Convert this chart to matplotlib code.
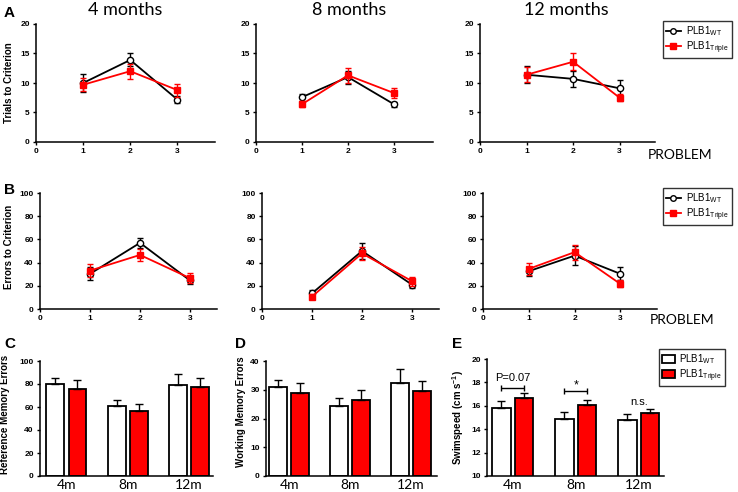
import matplotlib
matplotlib.use("Agg")
import matplotlib.pyplot as plt
import numpy as np
from matplotlib.lines import Line2D
from matplotlib.patches import Patch

plt.rcParams['font.family'] = ['Liberation Sans', 'DejaVu Sans']
plt.rcParams['mathtext.fontset'] = 'custom'
plt.rcParams['mathtext.rm'] = 'Liberation Sans'
plt.rcParams['mathtext.bf'] = 'Liberation Sans:bold'

# ---- data ----
problems = [1, 2, 3]
month_titles = ['4 months', '8 months', '12 months']
ages = ['4m', '8m', '12m']

trials_wt = [[10.0, 13.9, 7.2], [7.6, 11.0, 6.4], [11.4, 10.7, 9.1]]
trials_wt_sem = [[1.5, 1.1, 0.6], [0.6, 1.1, 0.4], [1.4, 1.3, 1.4]]
trials_tr = [[9.7, 12.0, 8.8], [6.4, 11.3, 8.3], [11.4, 13.6, 7.5]]
trials_tr_sem = [[1.1, 1.3, 1.1], [0.5, 1.3, 0.8], [1.3, 1.4, 0.6]]

errors_wt = [[30.3, 57.0, 24.6], [13.5, 50.0, 21.0], [32.6, 46.0, 30.3]]
errors_wt_sem = [[5.5, 4.0, 3.0], [3.0, 6.5, 3.0], [4.0, 8.0, 5.5]]
errors_tr = [[33.1, 46.6, 26.6], [10.7, 47.9, 24.0], [34.6, 49.0, 21.6]]
errors_tr_sem = [[5.5, 5.0, 4.5], [2.0, 5.5, 4.0], [5.0, 6.5, 3.0]]

ref_wt = [80.0, 60.5, 79.0]
ref_wt_sem = [5.0, 5.5, 10.0]
ref_tr = [76.0, 56.5, 77.5]
ref_tr_sem = [7.5, 6.5, 8.0]

work_wt = [31.0, 24.2, 32.2]
work_wt_sem = [2.3, 3.0, 5.0]
work_tr = [29.0, 26.5, 29.4]
work_tr_sem = [3.5, 3.3, 3.6]

swim_wt = [15.8, 14.9, 14.8]
swim_wt_sem = [0.63, 0.57, 0.54]
swim_tr = [16.7, 16.1, 15.35]
swim_tr_sem = [0.37, 0.37, 0.35]

W, H = 738, 492
RED = '#ff0000'
fig = plt.figure(figsize=(W / 100, H / 100), dpi=100)


def px_axes(left, top, right, bottom):
    return fig.add_axes([left / W, 1 - bottom / H, (right - left) / W, (bottom - top) / H])


def style(ax):
    for s in ['top', 'right']:
        ax.spines[s].set_visible(False)
    for s in ['left', 'bottom']:
        ax.spines[s].set_linewidth(1.1)
    ax.tick_params(labelsize=6, width=1, length=2.5, pad=2)
    for lab in ax.get_xticklabels() + ax.get_yticklabels():
        lab.set_fontweight('bold')


def line_panel(ax, wt, wt_e, tr, tr_e, ymax, step, xmax):
    ax.errorbar(problems, wt, yerr=wt_e, color='black', marker='o', mfc='white', mec='black',
                ms=4.5, mew=1, lw=1.3, capsize=2.2, elinewidth=1, capthick=1, zorder=3)
    ax.errorbar(problems, tr, yerr=tr_e, color=RED, marker='s', mfc=RED, mec=RED,
                ms=4.3, lw=1.3, capsize=2.2, elinewidth=1, capthick=1, zorder=4)
    ax.set_xlim(0, xmax)
    ax.set_ylim(0, ymax)
    ax.set_xticks([0, 1, 2, 3])
    ax.set_yticks(np.arange(0, ymax + 1, step))
    style(ax)


# row A : trials to criterion
row_a = [(36, 215, 3.8), (256, 433, 3.85), (480, 655, 3.76)]
title_x = [125, 349, 566]
for i, (l, r, xm) in enumerate(row_a):
    ax = px_axes(l, 24, r, 142)
    line_panel(ax, trials_wt[i], trials_wt_sem[i], trials_tr[i], trials_tr_sem[i], 20, 5, xm)
    fig.text(title_x[i] / W, 1 - 10 / H, month_titles[i],
             fontfamily='Lato', fontsize=13, ha='center', va='center')

# row B : errors to criterion
row_b = [(40, 217, 3.54), (262, 439, 3.54), (483, 657, 3.8)]
for i, (l, r, xm) in enumerate(row_b):
    ax = px_axes(l, 193, r, 309)
    line_panel(ax, errors_wt[i], errors_wt_sem[i], errors_tr[i], errors_tr_sem[i], 100, 20, xm)

line_handles = [Line2D([], [], color='black', marker='o', mfc='white', mec='black', ms=4, lw=1.3),
                Line2D([], [], color=RED, marker='s', ms=4, lw=1.3)]
labels = ['PLB1$_{\\mathrm{WT}}$', 'PLB1$_{\\mathrm{Triple}}$']
for top in [21, 188]:
    fig.legend(line_handles, labels, loc='upper left', bbox_to_anchor=(663 / W, 1 - top / H),
               fancybox=False, edgecolor='0.2', framealpha=1, fontsize=7, handlelength=1.5,
               borderpad=0.3, labelspacing=0.15, handletextpad=0.6, borderaxespad=0)

fig.text(648 / W, 1 - 155 / H, 'PROBLEM', fontfamily='Lato', fontsize=10, va='center')
fig.text(650 / W, 1 - 320 / H, 'PROBLEM', fontfamily='Lato', fontsize=10, va='center')

# rows C-E : bars
off, bw = 0.18, 0.29


def bar_panel(ax, wt, wt_e, tr, tr_e, ylim, step, xlim):
    x = np.arange(1, 4)
    ax.bar(x - off, wt, width=bw, color='white', edgecolor='black', lw=1.3, zorder=2)
    ax.bar(x + off, tr, width=bw, color=RED, edgecolor='black', lw=1.3, zorder=2)
    ax.errorbar(x - off, wt, yerr=[np.zeros(3), wt_e], fmt='none', ecolor='black',
                elinewidth=1, capsize=3, capthick=1, zorder=3)
    ax.errorbar(x + off, tr, yerr=[np.zeros(3), tr_e], fmt='none', ecolor='black',
                elinewidth=1, capsize=3, capthick=1, zorder=3)
    ax.set_ylim(*ylim)
    ax.set_xlim(*xlim)
    ax.set_yticks(np.arange(ylim[0], ylim[1] + 1, step))
    ax.set_xticks(x)
    style(ax)
    ax.set_xticklabels(ages, fontfamily='Lato', fontsize=10, fontweight='normal')
    ax.tick_params(axis='x', length=0, pad=2)


ax_c = px_axes(40, 361, 213, 476)
bar_panel(ax_c, ref_wt, ref_wt_sem, ref_tr, ref_tr_sem, (0, 100), 20, (0.57, 3.39))
ax_d = px_axes(266, 361, 437, 476)
bar_panel(ax_d, work_wt, work_wt_sem, work_tr, work_tr_sem, (0, 40), 10, (0.62, 3.43))
ax_e = px_axes(487, 359, 664, 476)
bar_panel(ax_e, swim_wt, swim_wt_sem, swim_tr, swim_tr_sem, (10, 20), 2, (0.59, 3.4))

ax_e.errorbar([1], [17.52], xerr=off, fmt='none', ecolor='black', elinewidth=1, capsize=2.5, capthick=1)
ax_e.errorbar([2], [17.26], xerr=off, fmt='none', ecolor='black', elinewidth=1, capsize=2.5, capthick=1)
ax_e.text(1, 18.4, 'P=0.07', ha='center', va='center', fontsize=8)
ax_e.text(2, 17.75, '*', ha='center', va='center', fontsize=9)
ax_e.text(3, 16.3, 'n.s.', ha='center', va='center', fontsize=8)

bar_handles = [Patch(facecolor='white', edgecolor='black', lw=1.3),
               Patch(facecolor=RED, edgecolor='black', lw=1.3)]
fig.legend(bar_handles, labels, loc='upper left', bbox_to_anchor=(659 / W, 1 - 349 / H),
           fancybox=False, edgecolor='0.2', framealpha=1, fontsize=7, handlelength=1.3,
           handleheight=0.9, borderpad=0.3, labelspacing=0.15, handletextpad=0.5, borderaxespad=0)

# axis labels and panel letters
ylab = dict(rotation=90, fontsize=7, fontweight='bold', ha='center', va='center')
fig.text(9 / W, 1 - 83 / H, 'Trials to Criterion', **ylab)
fig.text(9 / W, 1 - 247 / H, 'Errors to Criterion', **ylab)
fig.text(5 / W, 1 - 414 / H, 'Reference Memory Errors', **ylab)
fig.text(241 / W, 1 - 412 / H, 'Working Memory Errors', **ylab)
fig.text(458 / W, 1 - 418 / H, 'Swimspeed (cm s$^{\\mathbf{-1}}$)', **ylab)

let = dict(fontsize=11, fontweight='bold', ha='left', va='center')
fig.text(4 / W, 1 - 13 / H, 'A', **let)
fig.text(4 / W, 1 - 190 / H, 'B', **let)
fig.text(4 / W, 1 - 344 / H, 'C', **let)
fig.text(235 / W, 1 - 344 / H, 'D', **let)
fig.text(452 / W, 1 - 344 / H, 'E', **let)

fig.savefig('out.png', dpi=100)
